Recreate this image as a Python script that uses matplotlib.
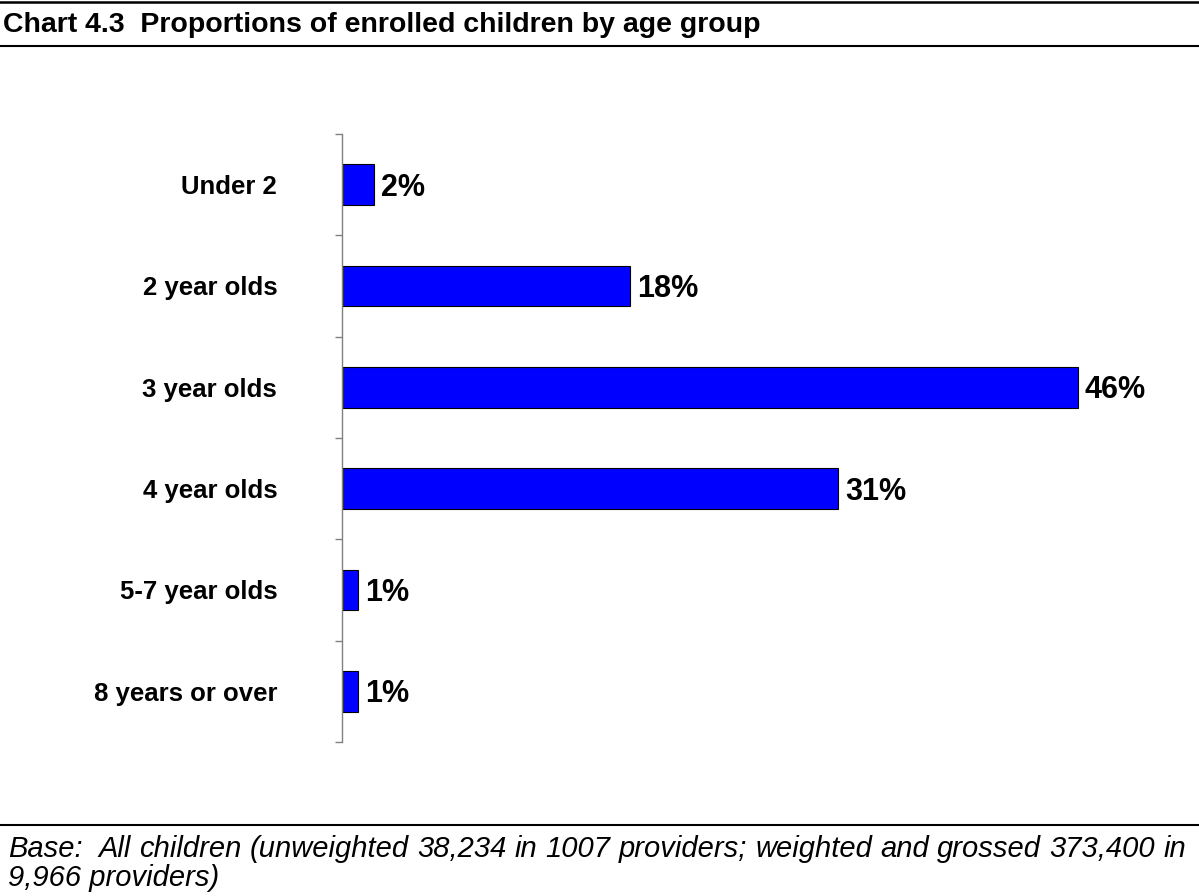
import matplotlib
matplotlib.use("Agg")
import matplotlib.pyplot as plt
from matplotlib.lines import Line2D
from matplotlib.transforms import ScaledTranslation

categories = ["Under 2", "2 year olds", "3 year olds", "4 year olds", "5-7 year olds", "8 years or over"]
values = [2, 18, 46, 31, 1, 1]
value_labels = ["2%", "18%", "46%", "31%", "1%", "1%"]
title = "Chart 4.3  Proportions of enrolled children by age group"
base_line1 = "Base:  All children (unweighted 38,234 in 1007 providers; weighted and grossed 373,400 in"
base_line2 = "9,966 providers)"

W, H = 1199, 896
plt.rcParams['font.family'] = ['Liberation Sans', 'DejaVu Sans']
fig = plt.figure(figsize=(W / 100, H / 100), dpi=100)

def fx(px):
    return px / W

def fy(py):
    return 1 - py / H

# Rules
fig.add_artist(Line2D([0, 1], [fy(2), fy(2)], transform=fig.transFigure, color='black', lw=1.8))
fig.add_artist(Line2D([0, 1], [fy(46), fy(46)], transform=fig.transFigure, color='black', lw=1.5))
fig.add_artist(Line2D([0, 1], [fy(825), fy(825)], transform=fig.transFigure, color='black', lw=1.5))

fig.text(fx(3), fy(32), title, fontsize=20.5, fontweight='bold', va='baseline', ha='left')

ax = fig.add_axes([fx(342), fy(742), fx(800), (742 - 134) / H])
ypos = list(range(len(categories)))
ax.barh(ypos, values, height=0.4, color='#0000FF', edgecolor='black', linewidth=0.8)
ax.set_ylim(len(categories) - 0.5, -0.5)
ax.set_xlim(0, 50)
ax.set_yticks([i - 0.5 for i in range(len(categories) + 1)])
ax.set_yticklabels([])
ax.tick_params(axis='y', direction='out', length=5, color='#808080', width=1)
ax.set_xticks([])
for s in ['top', 'right', 'bottom']:
    ax.spines[s].set_visible(False)
ax.spines['left'].set_color('#808080')
ax.spines['left'].set_linewidth(1)

cat_fs = 18.5
val_fs = 22
cat_tr = ax.transData + ScaledTranslation(0, -cat_fs * 0.716 / 2 / 72, fig.dpi_scale_trans)
val_tr = ax.transData + ScaledTranslation(5 / 72, -val_fs * 0.716 / 2 / 72, fig.dpi_scale_trans)
for i, (c, v, lab) in enumerate(zip(categories, values, value_labels)):
    ax.text(-4.05, i, c, ha='right', va='baseline', fontsize=cat_fs, fontweight='bold', transform=cat_tr)
    ax.text(v, i, lab, ha='left', va='baseline', fontsize=val_fs, fontweight='bold', transform=val_tr)

# Justified base line
base_fs = 21
fig.canvas.draw()
renderer = fig.canvas.get_renderer()
words = base_line1.split()
x_left, x_right = 8, 1186
widths = []
for w in words:
    t = fig.text(0, 0, w, fontsize=base_fs, fontstyle='italic')
    bb = t.get_window_extent(renderer)
    widths.append(bb.width)
    t.remove()
extra = 8  # double space after "Base:"
gap = (x_right - x_left - sum(widths) - extra) / (len(words) - 1)
x = x_left
for k, (w, wd) in enumerate(zip(words, widths)):
    fig.text(fx(x), fy(857), w, fontsize=base_fs, fontstyle='italic', va='baseline', ha='left')
    x += wd + gap + (extra if k == 0 else 0)
fig.text(fx(x_left), fy(886), base_line2, fontsize=base_fs, fontstyle='italic', va='baseline', ha='left')

fig.savefig("out.png", dpi=100)
